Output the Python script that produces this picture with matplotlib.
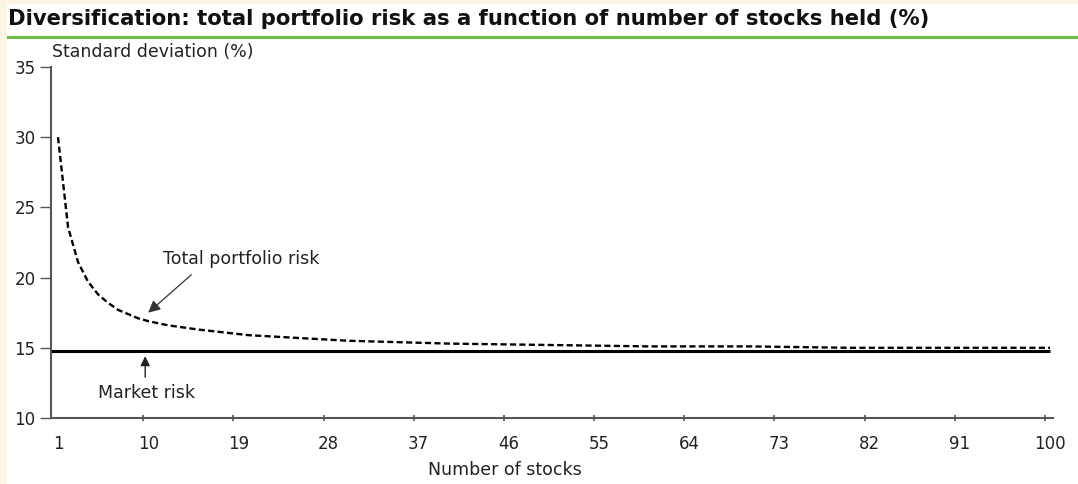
import numpy as np
import matplotlib
matplotlib.use("Agg")
import matplotlib.pyplot as plt
from matplotlib.patches import Rectangle

# number of stocks held and the resulting portfolio standard deviation (%)
n_stocks = [1, 2, 3, 4, 5, 6, 7, 8, 9, 10, 12, 15, 20, 25, 30, 40, 50, 60, 70, 80, 90, 100]
total_risk = [30.0, 23.6, 21.1, 19.7, 18.8, 18.2, 17.7, 17.4, 17.1, 16.9, 16.6, 16.3,
              15.9, 15.7, 15.5, 15.3, 15.2, 15.1, 15.1, 15.0, 15.0, 15.0]
market_risk = 14.8

x_ticks = [1, 10, 19, 28, 37, 46, 55, 64, 73, 82, 91, 100]
y_ticks = [10, 15, 20, 25, 30, 35]

title = "Diversification: total portfolio risk as a function of number of stocks held (%)"

plt.rcParams['font.family'] = ['DejaVu Sans']
text_col = '#222222'
axis_col = '#555555'

fig = plt.figure(figsize=(10.78, 4.84), dpi=100)
fig.patch.set_facecolor('#fdf5e4')
# white panel inside the cream border
fig.patches.append(Rectangle((7 / 1078, 0), 1, 1 - 4 / 484, transform=fig.transFigure,
                             facecolor='white', edgecolor='none', zorder=-10))

fig.text(8 / 1078, 1 - 19 / 484, title, fontsize=15.2, fontweight='bold',
         color='#111111', va='center', ha='left')
fig.add_artist(plt.Line2D([8 / 1078, 1], [1 - 37 / 484, 1 - 37 / 484],
                          transform=fig.transFigure, color='#6cbf46', lw=2.2))

ax = fig.add_axes([51 / 1078, 66 / 484, 1002 / 1078, 351 / 484])
ax.set_facecolor('white')

ax.plot(n_stocks, total_risk, color='black', lw=1.7, linestyle=(0, (2.6, 1.4)),
        dash_capstyle='butt')
ax.hlines(market_risk, 0.3, 100, color='black', lw=2.2)

ax.set_xlim(0.3, 100.3)
ax.set_ylim(10, 35)

# labels sit on the stock counts, the small marks half a step to the left
ax.set_xticks(x_ticks)
ax.set_xticklabels([str(v) for v in x_ticks], fontsize=12, color=text_col)
ax.tick_params(axis='x', which='major', length=0, pad=12)
ax.set_xticks([v - 0.5 for v in x_ticks[1:]], minor=True)
ax.tick_params(axis='x', which='minor', length=4, direction='inout', width=1.2, color=axis_col)

ax.set_yticks(y_ticks)
ax.set_yticklabels([str(v) for v in y_ticks], fontsize=12, color=text_col)
ax.tick_params(axis='y', length=8, width=1.0, color=axis_col, pad=3)

for side in ['top', 'right']:
    ax.spines[side].set_visible(False)
for side in ['left', 'bottom']:
    ax.spines[side].set_color(axis_col)
    ax.spines[side].set_linewidth(1.5)

fig.text(52 / 1078, 1 - 52 / 484, "Standard deviation (%)", fontsize=12.5,
         color=text_col, va='center', ha='left')
fig.text(505 / 1078, 1 - 470 / 484, "Number of stocks", fontsize=12.5,
         color=text_col, va='center', ha='center')

ax.annotate("Total portfolio risk", xy=(10.0, 17.6), xytext=(11.5, 21.3),
            fontsize=12.5, color=text_col, va='center', ha='left')
ax.annotate("", xy=(10.0, 17.5), xytext=(14.3, 20.2),
            arrowprops=dict(arrowstyle='-|>', color='#333333', lw=0.9,
                            mutation_scale=18, shrinkA=0, shrinkB=0))

ax.annotate("Market risk", xy=(5.0, 11.8), fontsize=12.5, color=text_col,
            va='center', ha='left')
ax.annotate("", xy=(9.7, 14.4), xytext=(9.7, 12.9),
            arrowprops=dict(arrowstyle='-|>', color='#222222', lw=1.0,
                            mutation_scale=14, shrinkA=0, shrinkB=0))

fig.savefig("out.png", dpi=100, facecolor=fig.get_facecolor())
